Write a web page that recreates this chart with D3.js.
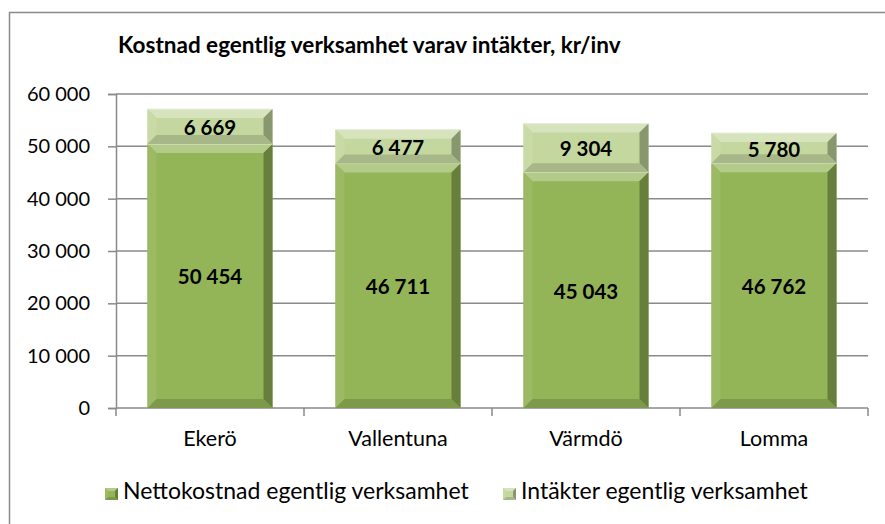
<!DOCTYPE html>
<html>
<head>
<meta charset="utf-8">
<script src="https://cdn.jsdelivr.net/npm/d3@7"></script>
<style>
  body { margin: 0; background: #fff; }
  svg text { font-family: Lato, "Open Sans", sans-serif; fill: #000; }
</style>
</head>
<body>
<div id="chart"></div>
<script>
// chart values
const categories = ['Ekerö', 'Vallentuna', 'Värmdö', 'Lomma'];
const nettokostnad = [50454, 46711, 45043, 46762];
const intakter = [6669, 6477, 9304, 5780];
const yTicks = [0, 10000, 20000, 30000, 40000, 50000, 60000];
const seriesNames = ['Nettokostnad egentlig verksamhet', 'Intäkter egentlig verksamhet'];
const title = 'Kostnad egentlig verksamhet varav intäkter, kr/inv';

const width = 885, height = 524;
const plot = {left: 116, right: 868, top: 94, bottom: 408};
const colors = ['#93b457', '#c4d79f'];
const gridColor = '#8a8a8a';

const sv = d3.formatLocale({decimal: ',', thousands: ' ', grouping: [3], currency: ['', '']});
const fmt = sv.format(',d');

const svg = d3.select('#chart').append('svg')
    .attr('width', width)
    .attr('height', height);

// outer chart frame (right and bottom edges fall outside the picture)
svg.append('rect')
    .attr('x', 9.5).attr('y', 12.5)
    .attr('width', 900).attr('height', 600)
    .attr('fill', 'none')
    .attr('stroke', gridColor)
    .attr('stroke-width', 1.5);

svg.append('text')
    .attr('x', 118).attr('y', 53)
    .attr('font-size', 22.5)
    .attr('font-weight', 'bold')
    .text(title);

const x = d3.scaleBand()
    .domain(categories)
    .range([plot.left, plot.right])
    .paddingInner(0.335)
    .paddingOuter(0.1675);

const y = d3.scaleLinear()
    .domain([0, 60000])
    .range([plot.bottom, plot.top]);

// gridlines + y axis
const yAxis = svg.append('g')
    .attr('transform', `translate(${plot.left},0)`)
    .call(d3.axisLeft(y).tickValues(yTicks).tickFormat(fmt).tickSize(8).tickPadding(18));
yAxis.select('.domain').attr('stroke', gridColor).attr('stroke-width', 1.5);
yAxis.selectAll('.tick line').attr('stroke', gridColor).attr('stroke-width', 1.5);
yAxis.selectAll('.tick text').attr('font-size', 20).attr('font-family', 'Lato, sans-serif').attr('fill', '#000');

svg.append('g').selectAll('line')
    .data(yTicks.filter(d => d > 0))
    .join('line')
    .attr('x1', plot.left).attr('x2', plot.right)
    .attr('y1', d => y(d)).attr('y2', d => y(d))
    .attr('stroke', gridColor)
    .attr('stroke-width', 1.5);

// x axis with ticks on band boundaries
const xAxis = svg.append('g')
    .attr('transform', `translate(0,${plot.bottom})`);
xAxis.append('line')
    .attr('x1', plot.left).attr('x2', plot.right)
    .attr('stroke', gridColor).attr('stroke-width', 1.5);
const step = x.step();
xAxis.selectAll('.xtick')
    .data(d3.range(categories.length + 1))
    .join('line')
    .attr('class', 'xtick')
    .attr('x1', i => plot.left + i * step).attr('x2', i => plot.left + i * step)
    .attr('y1', 0).attr('y2', 8)
    .attr('stroke', gridColor).attr('stroke-width', 1.5);
xAxis.selectAll('text')
    .data(categories)
    .join('text')
    .attr('x', d => x(d) + x.bandwidth() / 2)
    .attr('y', 38)
    .attr('text-anchor', 'middle')
    .attr('font-size', 21.5)
    .text(d => d);

// bevelled box, like the office "cool slant" bar style
function bevel(g, bx, by, bw, bh, color, d) {
    const c = d3.color(color);
    g.append('rect')
        .attr('x', bx).attr('y', by).attr('width', bw).attr('height', bh)
        .attr('fill', color);
    const faces = [
        {pts: [[bx, by], [bx + bw, by], [bx + bw - d, by + d], [bx + d, by + d]], fill: d3.interpolateRgb(color, '#ffffff')(0.3)},
        {pts: [[bx, by], [bx + d, by + d], [bx + d, by + bh - d], [bx, by + bh]], fill: d3.interpolateRgb(color, '#ffffff')(0.08)},
        {pts: [[bx + bw, by], [bx + bw, by + bh], [bx + bw - d, by + bh - d], [bx + bw - d, by + d]], fill: c.darker(1)},
        {pts: [[bx, by + bh], [bx + d, by + bh - d], [bx + bw - d, by + bh - d], [bx + bw, by + bh]], fill: c.darker(0.45)}
    ];
    g.selectAll(null)
        .data(faces)
        .join('polygon')
        .attr('points', f => f.pts.map(p => p.join(',')).join(' '))
        .attr('fill', f => f.fill);
}

const stacked = categories.map((c, i) => ({
    cat: c,
    segs: [
        {v: nettokostnad[i], y0: 0, y1: nettokostnad[i], color: colors[0]},
        {v: intakter[i], y0: nettokostnad[i], y1: nettokostnad[i] + intakter[i], color: colors[1]}
    ]
}));

const bars = svg.append('g');
stacked.forEach(s => {
    s.segs.forEach(seg => {
        const g = bars.append('g');
        const top = y(seg.y1), bot = y(seg.y0);
        bevel(g, x(s.cat), top, x.bandwidth(), bot - top, seg.color, 9);
        g.append('line')
            .attr('x1', x(s.cat)).attr('x2', x(s.cat) + x.bandwidth())
            .attr('y1', top).attr('y2', top)
            .attr('stroke', '#e8eddc').attr('stroke-width', 1);
        g.append('text')
            .attr('x', x(s.cat) + x.bandwidth() / 2)
            .attr('y', (top + bot) / 2 + 1)
            .attr('dy', '0.36em')
            .attr('text-anchor', 'middle')
            .attr('font-size', 20.5)
            .attr('font-weight', 'bold')
            .text(fmt(seg.v));
    });
});

// legend
const legendX = [105, 503];
const legend = svg.append('g');
seriesNames.forEach((name, i) => {
    const g = legend.append('g');
    bevel(g, legendX[i], 488, 13, 12, colors[i], 3);
    g.append('text')
        .attr('x', legendX[i] + 18)
        .attr('y', 499)
        .attr('font-size', 23)
        .text(name);
});
</script>
</body>
</html>
